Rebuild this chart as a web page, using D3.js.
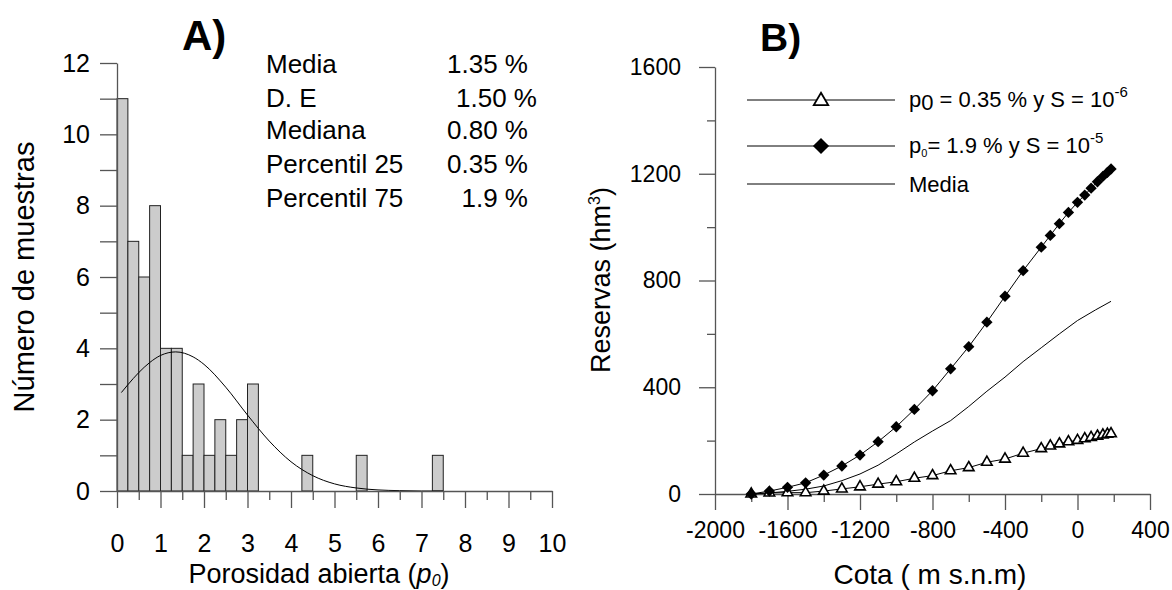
<!DOCTYPE html>
<html>
<head>
<meta charset="utf-8">
<script src="https://cdn.jsdelivr.net/npm/d3@7"></script>
<style>
  body { margin: 0; background: #fff; }
  svg { font-family: "Liberation Sans", Arial, sans-serif; }
</style>
</head>
<body>
<div id="chart"></div>
<script>
// ---- panel A data: histogram of open porosity (bin width 0.25)
var binStart = [0, 0.25, 0.5, 0.75, 1.0, 1.25, 1.5, 1.75, 2.0, 2.25, 2.5, 2.75, 3.0, 4.25, 5.5, 7.25];
var binCount = [11, 7, 6, 8, 4, 4, 1, 3, 1, 2, 1, 2, 3, 1, 1, 1];
var binWidth = 0.25;
// fitted curve
var curveX = [0.1, 0.25, 0.5, 0.75, 1.0, 1.35, 1.75, 2.0, 2.5, 3.0, 3.5, 4.0, 4.5, 5.0, 5.5, 6.0, 6.5, 7.0, 7.5];
var curveY = [2.76, 2.98, 3.32, 3.6, 3.8, 3.9, 3.76, 3.55, 2.91, 2.13, 1.4, 0.82, 0.43, 0.2, 0.085, 0.03, 0.01, 0, 0];
var statNames = ['Media', 'D. E', 'Mediana', 'Percentil 25', 'Percentil 75'];
var statValues = ['1.35 %', '1.50 %', '0.80 %', '0.35 %', '1.9 %'];
var xTicksA = [0, 1, 2, 3, 4, 5, 6, 7, 8, 9, 10];
var yTicksA = [0, 2, 4, 6, 8, 10, 12];

// ---- panel B data: reserves vs elevation
var cota = [-1800, -1700, -1600, -1500, -1400, -1300, -1200, -1100, -1000, -900, -800, -700, -600, -500,
            -400, -300, -200, -150, -100, -50, 0, 40, 75, 110, 140, 165, 185];
var resLow = [0, 4, 5, 5, 11, 19, 27, 37, 46, 59, 69, 87, 99, 119, 131, 153, 170, 180, 188, 196, 201, 207, 212, 217, 221, 224, 226];
var resHigh = [0, 11, 25, 42, 71, 105, 146, 196, 252, 317, 387, 469, 552, 644, 741, 837, 925, 969, 1013, 1055, 1093, 1120, 1146, 1170, 1190, 1205, 1218];
var cotaMedia = [-1800, -1700, -1600, -1500, -1400, -1300, -1200, -1100, -1000, -900, -800, -700, -600, -500, -400, -300, -200, -100, 0, 100, 185];
var resMedia = [0, 4, 10, 18, 30, 50, 75, 108, 150, 195, 236, 275, 328, 385, 438, 496, 548, 600, 650, 690, 722];
var xTicksB = [-2000, -1600, -1200, -800, -400, 0, 400];
var yTicksB = [0, 400, 800, 1200, 1600];

var width = 1172, height = 590;
var svg = d3.select('#chart').append('svg')
  .attr('width', width)
  .attr('height', height);

var axisColor = '#555';
var plain = function(d){ return String(d); };

// ================= panel A
var xA = d3.scaleLinear().domain([0, 10]).range([117, 552]);
var yA = d3.scaleLinear().domain([0, 12]).range([491, 63]);

var gA = svg.append('g');

// bars
gA.selectAll('rect.bar')
  .data(binStart)
  .enter()
  .append('rect')
  .attr('class', 'bar')
  .attr('x', function(d){ return xA(d); })
  .attr('width', function(d){ return xA(d + binWidth) - xA(d); })
  .attr('y', function(d, i){ return yA(binCount[i]); })
  .attr('height', function(d, i){ return yA(0) - yA(binCount[i]); })
  .attr('fill', '#cccccc')
  .attr('stroke', '#222')
  .attr('stroke-width', 1);

// fitted curve
var lineA = d3.line()
  .x(function(d){ return xA(d); })
  .y(function(d, i){ return yA(curveY[i]); })
  .curve(d3.curveMonotoneX);
gA.append('path')
  .attr('d', lineA(curveX))
  .attr('fill', 'none')
  .attr('stroke', '#000')
  .attr('stroke-width', 1);

// x axis: long ticks on integers, short on halves
var xAxisA = gA.append('g')
  .attr('transform', 'translate(0,' + yA(0) + ')')
  .call(d3.axisBottom(xA).tickValues(d3.range(0.5, 10, 1)).tickSize(9).tickFormat(''));
xAxisA.select('.domain').remove();
var xAxisA2 = gA.append('g')
  .attr('transform', 'translate(0,' + yA(0) + ')')
  .call(d3.axisBottom(xA).tickValues(xTicksA).tickSize(17).tickSizeOuter(0).tickPadding(26).tickFormat(plain));
xAxisA2.selectAll('text').style('font-size', '25px').attr('fill', '#000');

// y axis: ticks on every unit, labels on evens
var yAxisA = gA.append('g')
  .attr('transform', 'translate(' + xA(0) + ',0)')
  .call(d3.axisLeft(yA).ticks(12).tickSize(17).tickSizeOuter(0).tickPadding(10)
    .tickFormat(function(d){ return yTicksA.indexOf(d) >= 0 ? d : ''; }));
yAxisA.selectAll('text').style('font-size', '25px').attr('fill', '#000');

[xAxisA, xAxisA2, yAxisA].forEach(function(a){
  a.selectAll('line, path').attr('stroke', axisColor).attr('stroke-width', 1.3);
});

gA.append('text')
  .text('A)')
  .attr('x', 182)
  .attr('y', 50)
  .style('font-size', '42px')
  .style('font-weight', 'bold');

// stats block
var statY = [73, 107, 139, 173, 207];
var statRight = [528, 537, 528, 528, 528];
gA.selectAll('text.sname')
  .data(statNames)
  .enter()
  .append('text')
  .attr('class', 'sname')
  .text(function(d){ return d; })
  .attr('x', 266)
  .attr('y', function(d, i){ return statY[i]; })
  .style('font-size', '26px');
gA.selectAll('text.sval')
  .data(statValues)
  .enter()
  .append('text')
  .attr('class', 'sval')
  .text(function(d){ return d; })
  .attr('x', function(d, i){ return statRight[i]; })
  .attr('y', function(d, i){ return statY[i]; })
  .attr('text-anchor', 'end')
  .style('font-size', '26px');

// axis titles
gA.append('text')
  .text('Número de muestras')
  .attr('text-anchor', 'middle')
  .attr('transform', 'translate(34,277)rotate(-90)')
  .style('font-size', '29px');
var tA = gA.append('text')
  .attr('text-anchor', 'middle')
  .attr('x', 319)
  .attr('y', 583)
  .style('font-size', '27px');
tA.append('tspan').text('Porosidad abierta (');
tA.append('tspan').text('p').style('font-style', 'italic');
tA.append('tspan').text('0').style('font-style', 'italic').style('font-size', '16px').attr('dy', 3);
tA.append('tspan').text(')').attr('dy', -3);

// ================= panel B
var xB = d3.scaleLinear().domain([-2000, 400]).range([715, 1150]);
var yB = d3.scaleLinear().domain([0, 1600]).range([494, 67]);
var gB = svg.append('g');

var xAxisB = gB.append('g')
  .attr('transform', 'translate(0,' + yB(0) + ')')
  .call(d3.axisBottom(xB).tickValues(d3.range(-1800, 400, 400)).tickSize(8).tickFormat(''));
xAxisB.select('.domain').remove();
var xAxisB2 = gB.append('g')
  .attr('transform', 'translate(0,' + yB(0) + ')')
  .call(d3.axisBottom(xB).tickValues(xTicksB).tickSize(16).tickSizeOuter(0).tickPadding(12).tickFormat(plain));
xAxisB2.selectAll('text').style('font-size', '23px').attr('fill', '#000');

var yAxisB = gB.append('g')
  .attr('transform', 'translate(' + xB(-2000) + ',0)')
  .call(d3.axisLeft(yB).tickValues(d3.range(200, 1600, 400)).tickSize(8).tickFormat(''));
yAxisB.select('.domain').remove();
var yAxisB2 = gB.append('g')
  .attr('transform', 'translate(' + xB(-2000) + ',0)')
  .call(d3.axisLeft(yB).tickValues(yTicksB).tickSize(16).tickSizeOuter(0).tickPadding(18).tickFormat(plain));
yAxisB2.selectAll('text').style('font-size', '23px').attr('fill', '#000');

[xAxisB, xAxisB2, yAxisB, yAxisB2].forEach(function(a){
  a.selectAll('line, path').attr('stroke', axisColor).attr('stroke-width', 1.3);
});

var lineB = function(xs, ys){
  return d3.line()
    .x(function(d){ return xB(d); })
    .y(function(d, i){ return yB(ys[i]); })(xs);
};

gB.append('path').attr('d', lineB(cotaMedia, resMedia))
  .attr('fill', 'none').attr('stroke', '#000').attr('stroke-width', 1);
gB.append('path').attr('d', lineB(cota, resHigh))
  .attr('fill', 'none').attr('stroke', '#000').attr('stroke-width', 1);
gB.append('path').attr('d', lineB(cota, resLow))
  .attr('fill', 'none').attr('stroke', '#000').attr('stroke-width', 1);

var triSym = d3.symbol().type(d3.symbolTriangle).size(48);
var diaSym = d3.symbol().type(d3.symbolSquare).size(64);

gB.selectAll('path.tri')
  .data(cota)
  .enter()
  .append('path')
  .attr('class', 'tri')
  .attr('d', triSym)
  .attr('transform', function(d, i){ return 'translate(' + xB(d) + ',' + yB(resLow[i]) + ')'; })
  .attr('fill', '#fff')
  .attr('stroke', '#000')
  .attr('stroke-width', 1.6);
gB.selectAll('path.dia')
  .data(cota)
  .enter()
  .append('path')
  .attr('class', 'dia')
  .attr('d', diaSym)
  .attr('transform', function(d, i){ return 'translate(' + xB(d) + ',' + yB(resHigh[i]) + ')rotate(45)'; })
  .attr('fill', '#000');

gB.append('text')
  .text('B)')
  .attr('x', 760)
  .attr('y', 51)
  .style('font-size', '39px')
  .style('font-weight', 'bold');

// legend
var legY = [100, 146, 184];
legY.forEach(function(y){
  gB.append('line')
    .attr('x1', 747).attr('x2', 895)
    .attr('y1', y).attr('y2', y)
    .attr('stroke', '#000').attr('stroke-width', 1);
});
gB.append('path').attr('d', d3.symbol().type(d3.symbolTriangle).size(90))
  .attr('transform', 'translate(821,101)')
  .attr('fill', '#fff').attr('stroke', '#000').attr('stroke-width', 1.8);
gB.append('path').attr('d', d3.symbol().type(d3.symbolSquare).size(130))
  .attr('transform', 'translate(821,146)rotate(45)')
  .attr('fill', '#000');

var l1 = gB.append('text').attr('x', 909).attr('y', 107).style('font-size', '22px');
l1.append('tspan').text('p');
l1.append('tspan').text('0').attr('dy', 3);
l1.append('tspan').text(' = 0.35 % y S = 10').attr('dy', -3);
l1.append('tspan').text('-6').style('font-size', '15px').attr('dy', -10);

var l2 = gB.append('text').attr('x', 909).attr('y', 153).style('font-size', '22px');
l2.append('tspan').text('p');
l2.append('tspan').text('0').style('font-size', '11px').attr('dy', 4);
l2.append('tspan').text('= 1.9 % y S = 10').attr('dy', -4);
l2.append('tspan').text('-5').style('font-size', '15px').attr('dy', -10);

gB.append('text').text('Media').attr('x', 909).attr('y', 192).style('font-size', '22px');

// axis titles
var tB = gB.append('text')
  .attr('text-anchor', 'middle')
  .attr('transform', 'translate(610,280)rotate(-90)')
  .style('font-size', '27px');
tB.append('tspan').text('Reservas (hm');
tB.append('tspan').text('3').style('font-size', '16px').attr('dy', -10);
tB.append('tspan').text(')').attr('dy', 10);

gB.append('text')
  .text('Cota ( m s.n.m)')
  .attr('text-anchor', 'middle')
  .attr('x', 930)
  .attr('y', 584)
  .style('font-size', '28px');
</script>
</body>
</html>
